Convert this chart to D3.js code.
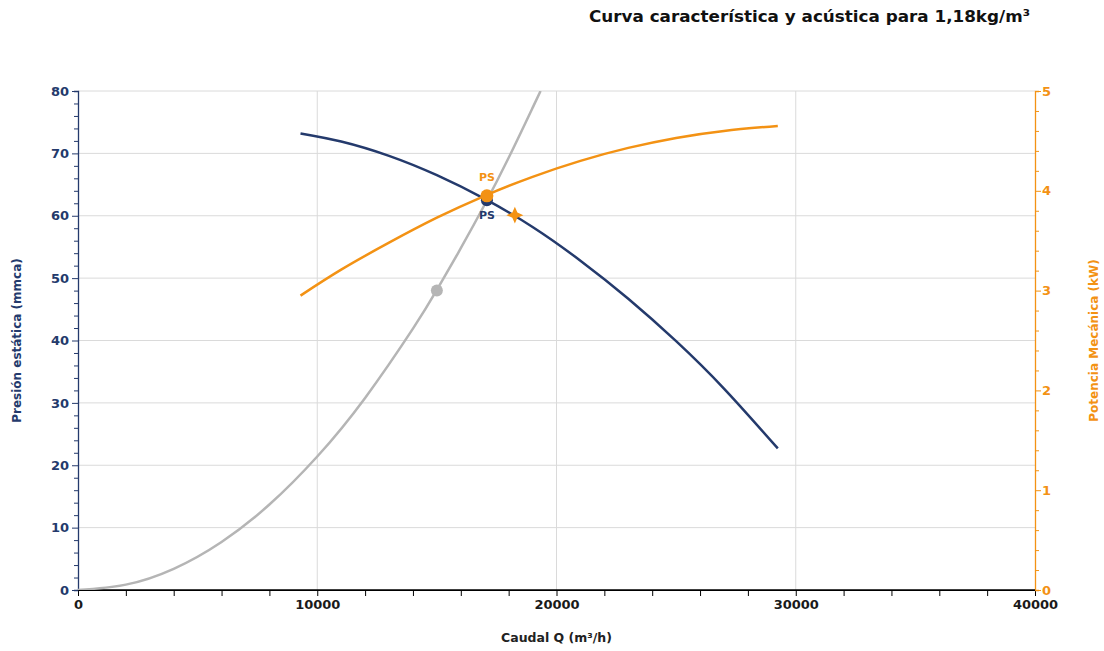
<!DOCTYPE html>
<html>
<head>
    <title>Curva característica</title>
    <script src="https://d3js.org/d3.v7.min.js"></script>
    <style>
        body { margin: 0; background: #fff; overflow: hidden; }
        .axis text { font-family: "DejaVu Sans", sans-serif; font-weight: bold; font-size: 13px; }
    </style>
</head>
<body>
<script>
    // Presión estática (mmca) vs caudal (m3/h)
    var pressQ = [9300, 11000, 13000, 15000, 17000, 19000, 21000, 23000, 25000, 27000, 29250];
    var pressP = [73.2, 71.9, 69.6, 66.5, 62.7, 58.2, 52.8, 46.7, 39.9, 32.3, 22.7];

    // Potencia mecánica (kW) vs caudal
    var powerQ = [9300, 11000, 13000, 15000, 17000, 19000, 21000, 23000, 25000, 27000, 29250];
    var powerKW = [2.95, 3.21, 3.48, 3.73, 3.95, 4.14, 4.30, 4.43, 4.53, 4.60, 4.65];

    // Curva de la instalación
    var sysQ = [0, 2000, 4000, 6000, 8000, 10000, 12000, 14000, 15000, 16000, 17000, 18000, 19000, 19334];
    var sysP = [0, 0.86, 3.4, 7.7, 13.7, 21.4, 30.8, 41.9, 48.1, 54.8, 61.8, 69.3, 77.3, 80];

    // Puntos marcados
    var workQ = 17091, workP = 62.5, workKW = 3.95;
    var sysPointQ = 15000, sysPointP = 48;
    var starQ = 18260, starP = 60.1;

    var xTicks = [0, 10000, 20000, 30000, 40000];
    var yTicks = [0, 10, 20, 30, 40, 50, 60, 70, 80];
    var y2Ticks = [0, 1, 2, 3, 4, 5];

    var navy = "#243a6c", orange = "#f39214", grey = "#b5b5b5";

    var W = 1104, H = 651;
    var m = {left: 78, right: 69, top: 91, bottom: 61};

    var svg = d3.select("body").append("svg")
        .attr("width", W)
        .attr("height", H);

    var x = d3.scaleLinear().domain([0, 40000]).range([m.left, W - m.right]);
    var y = d3.scaleLinear().domain([0, 80]).range([H - m.bottom, m.top]);
    var y2 = d3.scaleLinear().domain([0, 5]).range([H - m.bottom, m.top]);

    // grid
    svg.append("g").selectAll("line")
        .data(yTicks.slice(1))
      .enter().append("line")
        .attr("x1", x(0)).attr("x2", x(40000))
        .attr("y1", d => y(d)).attr("y2", d => y(d))
        .attr("stroke", "#dadada").attr("stroke-width", 1);
    svg.append("g").selectAll("line")
        .data(xTicks.slice(1, -1))
      .enter().append("line")
        .attr("y1", y(0)).attr("y2", y(80))
        .attr("x1", d => x(d)).attr("x2", d => x(d))
        .attr("stroke", "#dadada").attr("stroke-width", 1);

    // minor ticks
    var minorX = d3.range(0, 40001, 2000);
    var minorY = d3.range(0, 81, 2);
    var minorY2 = d3.range(0, 5.01, 0.2);
    var isInt = d => Math.abs(d - Math.round(d)) < 1e-6;

    var xAxis = svg.append("g")
        .attr("class", "axis")
        .attr("transform", "translate(0," + y(0) + ")")
        .call(d3.axisBottom(x).tickValues(minorX).tickFormat(d => xTicks.includes(d) ? d : "").tickSize(6).tickPadding(4));
    xAxis.select(".domain").attr("stroke", "#000");
    xAxis.selectAll("line").attr("stroke", "#000");
    xAxis.selectAll("text").attr("fill", "#1a1a1a");

    var yAxis = svg.append("g")
        .attr("class", "axis")
        .attr("transform", "translate(" + x(0) + ",0)")
        .call(d3.axisLeft(y).tickValues(minorY).tickFormat(d => yTicks.includes(d) ? d : "").tickSize(4).tickPadding(3));
    yAxis.select(".domain").attr("stroke", navy).attr("stroke-width", 1.3);
    yAxis.selectAll("line").attr("stroke", navy)
        .attr("x2", d => yTicks.includes(d) ? -6 : -4);
    yAxis.selectAll("text").attr("fill", navy).attr("x", -9);

    var y2Axis = svg.append("g")
        .attr("class", "axis")
        .attr("transform", "translate(" + x(40000) + ",0)")
        .call(d3.axisRight(y2).tickValues(minorY2).tickFormat(d => isInt(d) && y2Ticks.includes(Math.round(d)) ? Math.round(d) : "").tickSize(4).tickPadding(3));
    y2Axis.select(".domain").attr("stroke", orange).attr("stroke-width", 1.3);
    y2Axis.selectAll("line").attr("stroke", orange)
        .attr("x2", d => isInt(d) ? 6 : 4);
    y2Axis.selectAll("text").attr("fill", orange).attr("x", 7);

    // black bottom line over the corners
    svg.append("line")
        .attr("x1", x(0)).attr("x2", x(40000))
        .attr("y1", y(0)).attr("y2", y(0))
        .attr("stroke", "#000").attr("stroke-width", 1.3);

    // curves
    svg.append("clipPath").attr("id", "plotclip")
      .append("rect")
        .attr("x", x(0)).attr("y", y(80))
        .attr("width", x(40000) - x(0)).attr("height", y(0) - y(80));

    var lineP = d3.line().x(d => x(d[0])).y(d => y(d[1])).curve(d3.curveNatural);
    var lineKW = d3.line().x(d => x(d[0])).y(d => y2(d[1])).curve(d3.curveNatural);

    svg.append("path")
        .datum(d3.zip(sysQ, sysP))
        .attr("d", lineP)
        .attr("clip-path", "url(#plotclip)")
        .attr("fill", "none").attr("stroke", grey).attr("stroke-width", 2.5);

    svg.append("path")
        .datum(d3.zip(pressQ, pressP))
        .attr("d", lineP)
        .attr("fill", "none").attr("stroke", navy).attr("stroke-width", 2.5);

    svg.append("path")
        .datum(d3.zip(powerQ, powerKW))
        .attr("d", lineKW)
        .attr("fill", "none").attr("stroke", orange).attr("stroke-width", 2.5);

    // markers
    svg.append("circle")
        .attr("cx", x(sysPointQ)).attr("cy", y(sysPointP)).attr("r", 6)
        .attr("fill", grey);

    svg.append("circle")
        .attr("cx", x(workQ)).attr("cy", y(workP)).attr("r", 6)
        .attr("fill", navy);

    svg.append("circle")
        .attr("cx", x(workQ)).attr("cy", y2(workKW)).attr("r", 6.5)
        .attr("fill", orange);

    // four point star
    var star4 = {
        draw: function(ctx, size) {
            var r = Math.sqrt(size) * 0.6, ri = r * 0.42;
            for (var i = 0; i < 8; i++) {
                var a = i * Math.PI / 4 - Math.PI / 2;
                var rr = i % 2 === 0 ? r : ri;
                if (i === 0) ctx.moveTo(rr * Math.cos(a), rr * Math.sin(a));
                else ctx.lineTo(rr * Math.cos(a), rr * Math.sin(a));
            }
            ctx.closePath();
        }
    };
    svg.append("path")
        .attr("d", d3.symbol().type(star4).size(200)())
        .attr("transform", "translate(" + x(starQ) + "," + y(starP) + ")")
        .attr("fill", orange);

    svg.append("text")
        .attr("x", x(workQ)).attr("y", y2(workKW) - 15)
        .attr("text-anchor", "middle")
        .style("font-family", "DejaVu Sans, sans-serif").style("font-weight", "bold").style("font-size", "11px")
        .attr("fill", orange)
        .text("PS");
    svg.append("text")
        .attr("x", x(workQ)).attr("y", y(workP) + 19)
        .attr("text-anchor", "middle")
        .style("font-family", "DejaVu Sans, sans-serif").style("font-weight", "bold").style("font-size", "11px")
        .attr("fill", navy)
        .text("PS");

    // titles
    svg.append("text")
        .attr("x", 589).attr("y", 22)
        .attr("textLength", 441).attr("lengthAdjust", "spacingAndGlyphs")
        .style("font-family", "DejaVu Sans, sans-serif").style("font-weight", "bold").style("font-size", "16.5px")
        .attr("fill", "#111")
        .text("Curva característica y acústica para 1,18kg/m³");

    svg.append("text")
        .attr("x", (x(0) + x(40000)) / 2).attr("y", 642)
        .attr("text-anchor", "middle")
        .style("font-family", "DejaVu Sans, sans-serif").style("font-weight", "bold").style("font-size", "12.5px")
        .attr("fill", "#222")
        .text("Caudal Q (m³/h)");

    svg.append("text")
        .attr("transform", "translate(21," + (y(40)) + ") rotate(-90)")
        .attr("text-anchor", "middle")
        .style("font-family", "DejaVu Sans, sans-serif").style("font-weight", "bold").style("font-size", "12px")
        .attr("fill", navy)
        .text("Presión estática (mmca)");

    svg.append("text")
        .attr("transform", "translate(1098," + (y(40)) + ") rotate(-90)")
        .attr("text-anchor", "middle")
        .style("font-family", "DejaVu Sans, sans-serif").style("font-weight", "bold").style("font-size", "12px")
        .attr("fill", orange)
        .text("Potencia Mecánica (kW)");
</script>
</body>
</html>
